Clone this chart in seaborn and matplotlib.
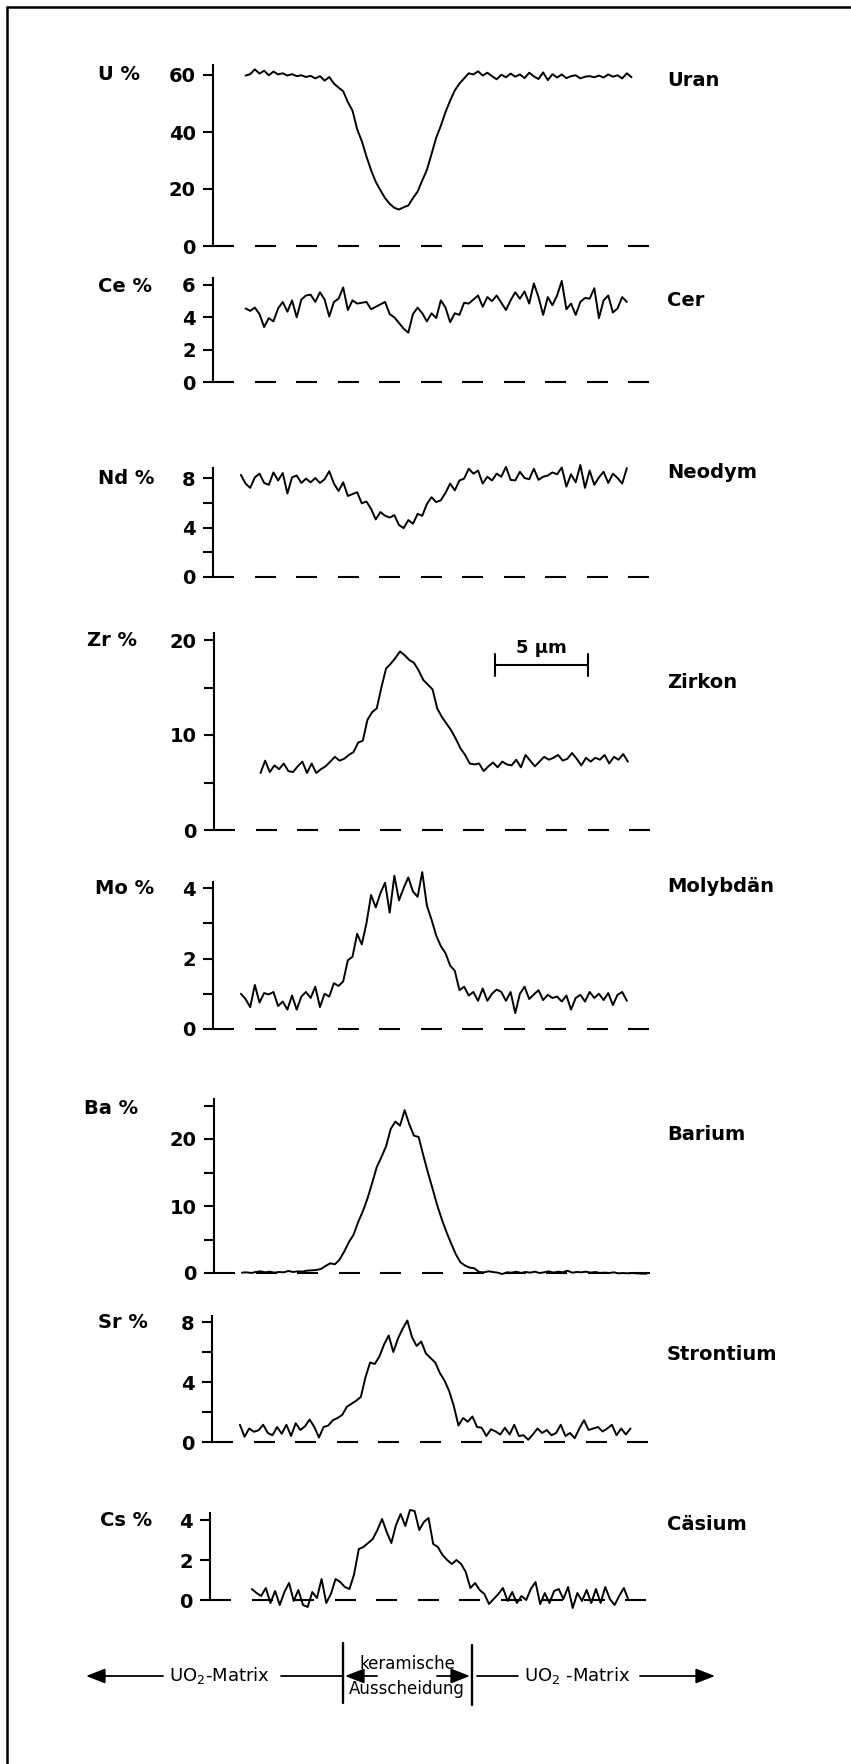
import numpy as np
import pandas as pd
import matplotlib
matplotlib.use("Agg")
import matplotlib.pyplot as plt
import seaborn as sns
from matplotlib.lines import Line2D
from matplotlib.patches import FancyArrowPatch

# ---------------- data ----------------
STEP = 0.25  # µm between samples

u_x0 = 1.75
u_pct = [59.8, 60.3, 62.0, 60.5, 61.5, 59.9, 61.2, 60.2, 60.6, 59.8, 60.3, 59.6, 59.9, 59.3,
         59.7, 58.8, 59.6, 58.0, 59.3, 57.0, 55.6, 54.3, 50.5, 47.5, 41.0, 36.8, 31.4, 26.6,
         22.5, 19.6, 16.8, 14.8, 13.4, 12.8, 13.6, 14.2, 16.8, 19.1, 23.0, 26.7, 32.3, 38.0,
         42.2, 47.0, 51.0, 54.6, 57.0, 58.8, 60.6, 60.2, 61.3, 59.8, 60.8, 59.6, 58.5, 60.1,
         59.2, 60.5, 59.4, 60.2, 58.9, 60.8, 59.5, 58.6, 60.9, 58.2, 60.3, 59.1, 60.2, 58.9,
         59.6, 59.9, 58.8, 59.4, 59.6, 59.2, 59.8, 59.1, 60.2, 59.4, 59.9, 58.8, 60.6, 59.2]

ce_x0 = 1.75
ce_pct = [4.55, 4.40, 4.60, 4.20, 3.40, 3.95, 3.75, 4.55, 4.95, 4.35, 5.05, 4.00, 5.10, 5.35,
          5.40, 4.95, 5.55, 5.10, 4.05, 4.95, 5.15, 5.85, 4.45, 5.05, 4.85, 4.90, 4.95, 4.50,
          4.65, 4.80, 4.95, 4.20, 4.00, 3.65, 3.30, 3.05, 4.20, 4.60, 4.25, 3.75, 4.25, 3.95,
          5.05, 4.60, 3.70, 4.25, 4.15, 4.90, 4.85, 5.10, 5.35, 4.65, 5.25, 5.00, 5.35, 4.90,
          4.45, 5.05, 5.55, 5.15, 5.60, 4.85, 6.10, 5.25, 4.15, 5.25, 4.75, 5.35, 6.25, 4.50,
          4.85, 4.15, 4.95, 5.20, 5.15, 5.80, 3.95, 5.05, 5.35, 4.30, 4.55, 5.25, 4.95]

nd_x0 = 1.5
nd_pct = [8.25, 7.55, 7.20, 8.05, 8.35, 7.60, 7.45, 8.45, 7.80, 8.40, 6.75, 8.05, 8.20, 7.60,
          7.95, 7.65, 8.00, 7.60, 7.90, 8.55, 7.55, 6.95, 7.65, 6.55, 6.70, 6.85, 5.95, 6.10,
          5.50, 4.65, 5.25, 4.95, 4.80, 5.00, 4.20, 3.95, 4.60, 4.30, 5.10, 4.95, 5.90, 6.45,
          6.05, 6.20, 6.80, 7.55, 7.00, 7.80, 7.95, 8.75, 8.35, 8.60, 7.55, 8.10, 7.80, 8.35,
          8.10, 8.90, 7.85, 7.80, 8.50, 8.00, 7.90, 8.75, 7.85, 8.10, 8.20, 8.45, 8.30, 8.85,
          7.30, 8.30, 7.65, 9.05, 7.20, 8.60, 7.45, 8.05, 8.50, 7.60, 8.35, 8.00, 7.55, 8.80]

zr_x0 = 2.5
zr_pct = [6.0, 7.3, 6.1, 6.8, 6.4, 7.0, 6.2, 6.1, 6.7, 7.2, 6.0, 7.0, 6.0, 6.4, 6.7, 7.2,
          7.7, 7.3, 7.5, 7.9, 8.2, 9.2, 9.4, 11.6, 12.4, 12.8, 15.0, 17.0, 17.5, 18.1, 18.8,
          18.4, 17.9, 17.6, 16.8, 15.8, 15.3, 14.8, 12.8, 11.9, 11.2, 10.5, 9.6, 8.6, 7.9,
          7.0, 6.9, 7.0, 6.2, 6.7, 7.1, 6.6, 7.2, 6.9, 6.8, 7.4, 6.6, 7.9, 7.3, 6.7, 7.2, 7.7,
          7.4, 7.6, 7.9, 7.3, 7.5, 8.1, 7.5, 6.8, 7.6, 7.2, 7.6, 7.4, 7.9, 7.0, 7.7, 7.4, 8.0, 7.2]

mo_x0 = 1.5
mo_pct = [1.00, 0.85, 0.62, 1.25, 0.75, 1.02, 0.98, 1.05, 0.65, 0.78, 0.55, 0.95, 0.55, 0.92,
          1.05, 0.88, 1.20, 0.62, 1.00, 0.92, 1.30, 1.22, 1.35, 1.95, 2.05, 2.70, 2.40, 3.00,
          3.80, 3.45, 3.85, 4.15, 3.30, 4.35, 3.65, 4.00, 4.30, 3.90, 3.75, 4.45, 3.50, 3.10,
          2.65, 2.35, 2.15, 1.80, 1.65, 1.10, 1.20, 0.95, 1.05, 0.80, 1.15, 0.80, 1.00, 1.12,
          1.05, 0.80, 1.05, 0.45, 1.00, 1.20, 0.85, 0.98, 1.10, 0.82, 0.97, 0.88, 0.92, 0.78,
          0.95, 0.55, 0.88, 0.97, 0.78, 1.05, 0.88, 1.00, 0.82, 1.02, 0.68, 0.97, 1.05, 0.80]

ba_x0 = 1.5
ba_pct = [0.05, 0.10, 0.00, 0.15, 0.25, 0.10, 0.20, 0.05, 0.15, 0.10, 0.30, 0.15, 0.25, 0.20,
          0.35, 0.40, 0.45, 0.60, 1.05, 1.45, 1.30, 2.00, 3.20, 4.60, 5.70, 7.60, 9.20, 11.10,
          13.40, 15.80, 17.30, 18.90, 21.50, 22.60, 22.00, 24.30, 22.20, 20.50, 20.30, 17.60,
          15.00, 12.60, 10.10, 8.00, 6.10, 4.40, 2.80, 1.60, 1.10, 0.80, 0.70, 0.15, 0.10, 0.25,
          0.15, 0.05, -0.15, 0.10, 0.05, 0.20, 0.00, 0.15, 0.05, 0.20, 0.00, 0.10, 0.25, 0.05,
          0.20, 0.10, 0.35, 0.05, 0.15, 0.10, 0.20, 0.05, 0.15, 0.00, 0.05, 0.00, 0.10, -0.05,
          0.00, -0.05, 0.00, -0.05, -0.10, -0.10]

sr_x0 = 1.5
sr_pct = [1.15, 0.35, 0.90, 0.68, 0.78, 1.15, 0.60, 0.45, 1.00, 0.55, 1.15, 0.40, 1.25, 0.80,
          1.05, 1.50, 1.00, 0.30, 1.00, 1.10, 1.45, 1.60, 1.80, 2.35, 2.55, 2.75, 3.00, 4.30,
          5.30, 5.20, 5.70, 6.50, 7.10, 6.00, 6.90, 7.55, 8.10, 7.00, 6.40, 6.70, 5.90, 5.60,
          5.30, 4.60, 4.10, 3.40, 2.40, 1.10, 1.60, 1.35, 1.70, 1.00, 0.95, 0.40, 0.85, 0.70,
          0.50, 0.95, 0.50, 1.15, 0.40, 0.45, 0.15, 0.50, 0.90, 0.60, 0.80, 0.45, 0.60, 1.15,
          0.40, 0.60, 0.25, 0.90, 1.45, 0.80, 0.90, 1.00, 0.70, 0.90, 1.15, 0.45, 0.90, 0.50, 0.90]

cs_x0 = 2.25
cs_pct = [0.55, 0.35, 0.20, 0.60, -0.15, 0.45, -0.25, 0.40, 0.85, -0.05, 0.50, -0.25, -0.35,
          0.40, 0.10, 1.05, -0.15, 0.30, 1.05, 0.90, 0.65, 0.55, 1.30, 2.55, 2.65, 2.85, 3.05,
          3.50, 4.05, 3.40, 2.85, 3.75, 4.30, 3.70, 4.50, 4.45, 3.50, 3.90, 4.10, 2.80, 2.65,
          2.25, 2.00, 1.80, 2.00, 1.80, 1.40, 0.60, 0.85, 0.50, 0.30, -0.20, 0.05, 0.30, 0.60,
          -0.05, 0.40, -0.15, 0.20, 0.00, 0.55, 0.90, -0.20, 0.35, -0.15, 0.45, 0.55, 0.05, 0.65,
          -0.40, 0.35, -0.05, 0.50, -0.15, 0.55, -0.15, 0.65, 0.05, -0.25, 0.20, 0.60, 0.00]

symbols = ["U %", "Ce %", "Nd %", "Zr %", "Mo %", "Ba %", "Sr %", "Cs %"]
names = ["Uran", "Cer", "Neodym", "Zirkon", "Molybdän", "Barium", "Strontium", "Cäsium"]
major_ticks = [[0, 20, 40, 60], [0, 2, 4, 6], [0, 4, 8], [0, 10, 20], [0, 2, 4],
               [0, 10, 20], [0, 4, 8], [0, 2, 4]]
minor_ticks = [[], [], [2, 6], [5, 15], [1, 3], [5, 15, 25], [2, 6], []]
series = [(u_x0, u_pct), (ce_x0, ce_pct), (nd_x0, nd_pct), (zr_x0, zr_pct),
          (mo_x0, mo_pct), (ba_x0, ba_pct), (sr_x0, sr_pct), (cs_x0, cs_pct)]

scale_bar_start = 15.1   # µm
scale_bar_len = 5.0      # µm

# ---------------- layout (pixels) ----------------
W, H = 851, 1764
PX_PER_UM = 18.6
X_SPAN = 23.5
ABOVE = 25  # room above the spine top so peaks are not clipped
DASH_UM = 21.0 / PX_PER_UM      # baseline dash length
PERIOD_UM = 41.5 / PX_PER_UM    # baseline dash period
layout = [
    dict(spine=213, zero=246, top=65, ppu=2.85, below=8, lx=98, ly=75, ny=80),
    dict(spine=213, zero=382, top=278, ppu=16.17, below=8, lx=98, ly=286, ny=300),
    dict(spine=213, zero=577, top=468, ppu=12.375, below=8, lx=98, ly=478, ny=473),
    dict(spine=214, zero=830, top=633, ppu=9.5, below=8, lx=87, ly=640, ny=683),
    dict(spine=213, zero=1029, top=882, ppu=35.25, below=8, lx=95, ly=888, ny=887),
    dict(spine=214, zero=1273, top=1099, ppu=6.7, below=8, lx=84, ly=1108, ny=1135),
    dict(spine=212, zero=1442, top=1316, ppu=15.0, below=8, lx=98, ly=1322, ny=1355),
    dict(spine=210, zero=1600, top=1513, ppu=20.0, below=14, lx=100, ly=1520, ny=1525),
]

sns.set_theme(style="white")
plt.rcParams["font.family"] = ["DejaVu Sans"]
plt.rcParams["text.color"] = "black"

fig = plt.figure(figsize=(W / 100, H / 100), dpi=100)
fig.patch.set_facecolor("white")

FS = 14
lab_kw = dict(fontsize=FS, fontweight="bold", color="black")


def fx(px):
    return px / W


def fy(py):
    return 1 - py / H


dash_starts = np.arange(0.0, X_SPAN, PERIOD_UM)
dash_ends = np.minimum(dash_starts + DASH_UM, X_SPAN)

axes = []
for i, L in enumerate(layout):
    bottom_px = L["zero"] + L["below"]
    top_px = L["top"] - ABOVE
    ax = fig.add_axes([fx(L["spine"]), fy(bottom_px),
                       X_SPAN * PX_PER_UM / W, (bottom_px - top_px) / H])
    ax.set_facecolor("none")
    x0, vals = series[i]
    df = pd.DataFrame({"x": x0 + STEP * np.arange(len(vals)), "y": vals})
    sns.lineplot(data=df, x="x", y="y", ax=ax, color="black", lw=1.4,
                 sort=False, estimator=None, errorbar=None)
    spine_top = (L["zero"] - L["top"]) / L["ppu"]
    ax.set_xlim(0, X_SPAN)
    ax.set_ylim(-L["below"] / L["ppu"], (L["zero"] - top_px) / L["ppu"])
    # dashed zero line, first dash attached to the axis
    ax.hlines(np.zeros_like(dash_starts), dash_starts, dash_ends, colors="black", lw=1.5)
    for s in ["top", "right", "bottom"]:
        ax.spines[s].set_visible(False)
    ax.spines["left"].set_bounds(0, spine_top)
    ax.spines["left"].set_linewidth(1.5)
    ax.spines["left"].set_color("black")
    ax.set_xticks([])
    ax.set_yticks(major_ticks[i])
    ax.set_yticks(minor_ticks[i], minor=True)
    ax.tick_params(axis="y", which="both", direction="out", length=7.5, width=1.5,
                   color="black", left=True, pad=5, labelcolor="black")
    ax.tick_params(axis="y", which="major", labelsize=FS)
    for t in ax.get_yticklabels():
        t.set_fontweight("bold")
    ax.set_xlabel("")
    ax.set_ylabel("")
    fig.text(fx(L["lx"]), fy(L["ly"]), symbols[i], ha="left", va="center", **lab_kw)
    fig.text(fx(667), fy(L["ny"]), names[i], ha="left", va="center", **lab_kw)
    axes.append(ax)

# scale bar on the Zr panel
zr_ax = axes[3]
bar_y = (830 - 665) / 9.5
zr_ax.plot([scale_bar_start, scale_bar_start + scale_bar_len], [bar_y, bar_y],
           color="black", lw=1.5, solid_capstyle="butt")
cap = 11 / 9.5
for xb in (scale_bar_start, scale_bar_start + scale_bar_len):
    zr_ax.plot([xb, xb], [bar_y - cap, bar_y + cap], color="black", lw=1.5)
zr_ax.text(scale_bar_start + scale_bar_len / 2, bar_y + 0.8, "5 µm", ha="center",
           va="bottom", fontsize=13, fontweight="bold", color="black")

# frame lines (top and left page edge)
fig.add_artist(Line2D([fx(7), fx(851)], [fy(7), fy(7)], color="black", lw=1.8))
fig.add_artist(Line2D([fx(7), fx(7)], [fy(7), fy(1764)], color="black", lw=1.8))

# bottom annotation
ya = 1676


def hline(x1, x2, y=ya, lw=1.3):
    fig.add_artist(Line2D([fx(x1), fx(x2)], [fy(y), fy(y)], color="black", lw=lw))


def arrow(x_from, x_to, y=ya):
    fig.add_artist(FancyArrowPatch((fx(x_from), fy(y)), (fx(x_to), fy(y)),
                                   transform=fig.transFigure,
                                   arrowstyle="-|>,head_length=0.9,head_width=0.35",
                                   mutation_scale=13, color="black", lw=1.3,
                                   shrinkA=0, shrinkB=0))


ann_kw = dict(ha="center", va="center", color="black")
arrow(163, 86)
fig.text(fx(219), fy(ya), r"UO$_2$-Matrix", fontsize=13, **ann_kw)
hline(281, 343)
fig.add_artist(Line2D([fx(343), fx(343)], [fy(1643), fy(1703)], color="black", lw=1.7))
arrow(377, 345)
fig.text(fx(407), fy(1664), "keramische", fontsize=12, **ann_kw)
fig.text(fx(407), fy(1689), "Ausscheidung", fontsize=12, **ann_kw)
arrow(437, 470)
fig.add_artist(Line2D([fx(472), fx(472)], [fy(1645), fy(1705)], color="black", lw=1.7))
hline(477, 518)
fig.text(fx(577), fy(ya), r"UO$_2$ -Matrix", fontsize=13, **ann_kw)
arrow(640, 715)

fig.savefig("out.png", dpi=100, facecolor="white")
